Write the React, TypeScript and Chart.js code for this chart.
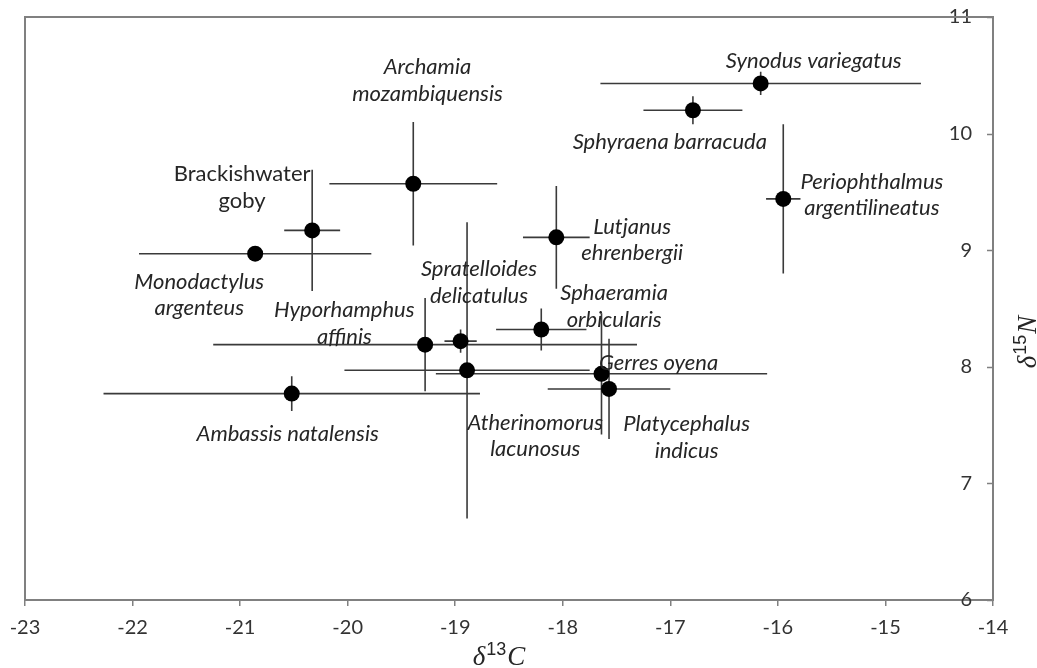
import React, { useEffect, useRef } from "react";
import { Chart, registerables } from "chart.js";

Chart.register(...registerables);

// ---- Data ----
const species = [
  "Synodus variegatus",
  "Sphyraena barracuda",
  "Periophthalmus argentilineatus",
  "Archamia mozambiquensis",
  "Brackishwater goby",
  "Lutjanus ehrenbergii",
  "Monodactylus argenteus",
  "Spratelloides delicatulus",
  "Sphaeramia orbicularis",
  "Hyporhamphus affinis",
  "Atherinomorus lacunosus",
  "Gerres oyena",
  "Platycephalus indicus",
  "Ambassis natalensis",
];
const d13C = [-16.16, -16.79, -15.95, -19.39, -20.33, -18.06, -20.86, -18.95, -18.2, -19.28, -18.89, -17.64, -17.57, -20.52];
const d15N = [10.43, 10.2, 9.44, 9.57, 9.17, 9.11, 8.97, 8.22, 8.32, 8.19, 7.97, 7.94, 7.81, 7.77];
const d13CErr = [1.49, 0.46, 0.16, 0.78, 0.26, 0.31, 1.08, 0.15, 0.42, 1.97, 1.14, 1.54, 0.57, 1.75];
const d15NErr = [0.1, 0.12, 0.64, 0.53, 0.52, 0.44, 0.04, 0.1, 0.18, 0.4, 1.27, 0.52, 0.43, 0.15];

// label text lines and label anchor (centre of text block) in data units
const labelLines = [
  ["Synodus variegatus"],
  ["Sphyraena barracuda"],
  ["Periophthalmus", "argentilineatus"],
  ["Archamia", "mozambiquensis"],
  ["Brackishwater", "goby"],
  ["Lutjanus", "ehrenbergii"],
  ["Monodactylus", "argenteus"],
  ["Spratelloides", "delicatulus"],
  ["Sphaeramia", "orbicularis"],
  ["Hyporhamphus", "affinis"],
  ["Atherinomorus", "lacunosus"],
  ["Gerres oyena"],
  ["Platycephalus", "indicus"],
  ["Ambassis natalensis"],
];
const labelItalic = [true, true, true, true, false, true, true, true, true, true, true, true, true, true];
const labelX = [-15.667, -17.005, -15.126, -19.258, -20.981, -17.355, -21.38, -18.779, -17.523, -20.031, -18.256, -17.109, -16.849, -20.558];
const labelY = [10.623, 9.931, 9.473, 10.455, 9.54, 9.087, 8.616, 8.721, 8.516, 8.373, 7.407, 8.035, 7.395, 7.421];

const xTickValues = [-23, -22, -21, -20, -19, -18, -17, -16, -15, -14];
const yTickValues = [6, 7, 8, 9, 10, 11];

const xMin = -23;
const xMax = -14;
const yMin = 6;
const yMax = 11;

const FRAME = "#808080";
const BAR = "#3a3a3a";
const TEXT = "#262626";
const LABEL_FONT = "Lato";
const LABEL_SIZE = 22;
const TICK_SIZE = 20;
const LINE_H = 26.7;

function drawIsotope(ctx: CanvasRenderingContext2D, sup: string, letter: string, size: number) {
  // draws "δ^sup letter" centred horizontally at (0,0) baseline
  const main = `italic ${size}px "Liberation Serif"`;
  const small = `${Math.round(size * 0.66)}px "Liberation Sans"`;
  ctx.font = main;
  const wD = ctx.measureText("δ").width;
  const wL = ctx.measureText(letter).width;
  ctx.font = small;
  const wS = ctx.measureText(sup).width;
  const total = wD + wS + wL + 2;
  let x = -total / 2;
  ctx.textAlign = "left";
  ctx.textBaseline = "alphabetic";
  ctx.font = main;
  ctx.fillText("δ", x, 0);
  x += wD + 1;
  ctx.font = small;
  ctx.fillText(sup, x, -size * 0.36);
  x += wS + 1;
  ctx.font = main;
  ctx.fillText(letter, x, 0);
}

const decorPlugin = {
  id: "decor",
  beforeDatasetsDraw(chart: any) {
    const { ctx, scales } = chart;
    const x = scales.x;
    const y = scales.y;
    ctx.save();
    ctx.strokeStyle = BAR;
    ctx.lineWidth = 1.6;
    for (let i = 0; i < d13C.length; i++) {
      const px = x.getPixelForValue(d13C[i]);
      const py = y.getPixelForValue(d15N[i]);
      ctx.beginPath();
      ctx.moveTo(x.getPixelForValue(d13C[i] - d13CErr[i]), py);
      ctx.lineTo(x.getPixelForValue(d13C[i] + d13CErr[i]), py);
      ctx.moveTo(px, y.getPixelForValue(d15N[i] - d15NErr[i]));
      ctx.lineTo(px, y.getPixelForValue(d15N[i] + d15NErr[i]));
      ctx.stroke();
    }
    ctx.restore();
  },
  afterDatasetsDraw(chart: any) {
    const { ctx, scales } = chart;
    const x = scales.x;
    const y = scales.y;
    ctx.save();
    ctx.fillStyle = TEXT;
    ctx.textAlign = "center";
    ctx.textBaseline = "middle";
    for (let i = 0; i < labelLines.length; i++) {
      const lines = labelLines[i];
      const cx = x.getPixelForValue(labelX[i]);
      const cy = y.getPixelForValue(labelY[i]);
      ctx.font = `${labelItalic[i] ? "italic " : ""}${LABEL_SIZE}px "${LABEL_FONT}"`;
      const start = cy - ((lines.length - 1) * LINE_H) / 2;
      lines.forEach((t, k) => ctx.fillText(t, cx, start + k * LINE_H));
    }
    ctx.restore();
  },
  afterDraw(chart: any) {
    const { ctx, chartArea, scales } = chart;
    const y = scales.y;
    ctx.save();
    ctx.strokeStyle = FRAME;
    ctx.lineWidth = 2;
    ctx.beginPath();
    ctx.moveTo(chartArea.left, chartArea.bottom);
    ctx.lineTo(chartArea.left, chartArea.top);
    ctx.lineTo(chartArea.right, chartArea.top);
    ctx.stroke();
    // inward y ticks
    ctx.lineWidth = 1.5;
    ctx.beginPath();
    for (const v of yTickValues) {
      const py = Math.round(y.getPixelForValue(v)) + 0.5;
      ctx.moveTo(chartArea.right, py);
      ctx.lineTo(chartArea.right - 6, py);
    }
    ctx.stroke();
    // axis titles
    ctx.fillStyle = TEXT;
    ctx.save();
    ctx.translate(499, 665);
    drawIsotope(ctx, "13", "C", 27);
    ctx.restore();
    ctx.save();
    ctx.translate(1036, 342);
    ctx.rotate(-Math.PI / 2);
    drawIsotope(ctx, "15", "N", 27);
    ctx.restore();
    ctx.restore();
  },
};

export default function App() {
  const ref = useRef<HTMLCanvasElement | null>(null);
  useEffect(() => {
    if (!ref.current) return;
    const points = d13C.map((v, i) => ({ x: v, y: d15N[i] }));
    const chart = new Chart(ref.current, {
      type: "scatter",
      data: {
        datasets: [
          {
            label: "Species",
            data: points,
            backgroundColor: "#000000",
            borderWidth: 0,
            pointRadius: 8,
            pointHoverRadius: 8,
          },
        ],
      },
      options: {
        animation: false,
        responsive: false,
        devicePixelRatio: 1,
        layout: { padding: { left: 25, top: 17, right: 0, bottom: 0 } },
        plugins: {
          legend: { display: false },
          tooltip: { enabled: false },
        },
        scales: {
          x: {
            type: "linear",
            min: xMin,
            max: xMax,
            afterBuildTicks: (s: any) => {
              s.ticks = xTickValues.map((v) => ({ value: v }));
            },
            afterFit: (s: any) => {
              s.height = 68;
              s.paddingLeft = 0;
              s.paddingRight = 0;
            },
            ticks: {
              color: "#333333",
              font: { family: LABEL_FONT, size: TICK_SIZE },
              padding: 10,
              maxRotation: 0,
            },
            grid: {
              drawOnChartArea: false,
              drawTicks: true,
              tickLength: 6,
              color: FRAME,
              lineWidth: 1.5,
            },
            border: { display: true, color: FRAME, width: 2 },
          },
          y: {
            type: "linear",
            position: "right",
            min: yMin,
            max: yMax,
            afterBuildTicks: (s: any) => {
              s.ticks = yTickValues.map((v) => ({ value: v }));
            },
            afterFit: (s: any) => {
              s.width = 44;
              s.paddingTop = 0;
              s.paddingBottom = 0;
            },
            ticks: {
              color: "#333333",
              font: { family: LABEL_FONT, size: TICK_SIZE },
              mirror: true,
              padding: -21,
            },
            grid: { drawOnChartArea: false, drawTicks: false },
            border: { display: true, color: FRAME, width: 2 },
          },
        },
      },
      plugins: [decorPlugin],
    });
    return () => chart.destroy();
  }, []);
  return (
    <div style={{ position: "fixed", left: 0, top: 0, width: 1037, height: 668, background: "#fff" }}>
      <canvas ref={ref} width={1037} height={668} />
    </div>
  );
}
